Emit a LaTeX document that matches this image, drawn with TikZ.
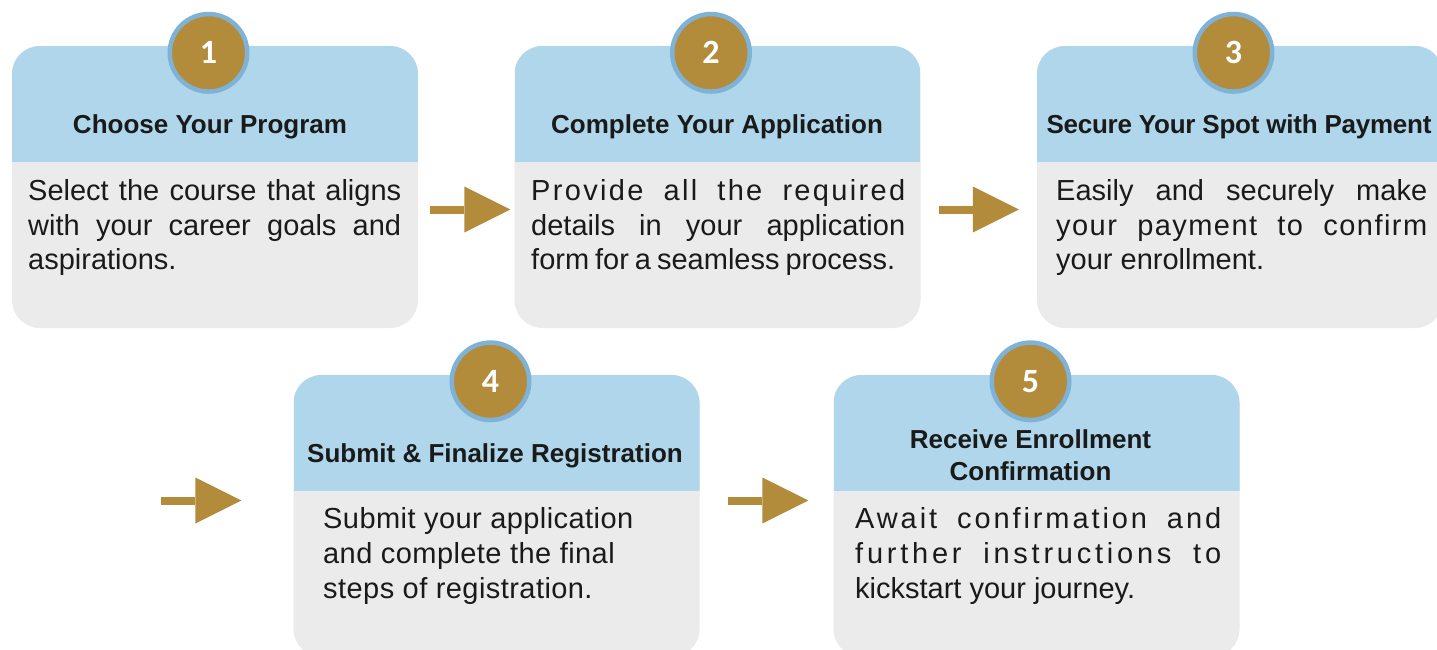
\documentclass[tikz,border=0pt]{standalone}
\usepackage{fontspec}
\setmainfont{Liberation Sans}
\newfontfamily\numfont{Carlito}
\usetikzlibrary{arrows.meta}

\definecolor{hdrblue}{HTML}{AFD6EA}
\definecolor{bodygray}{HTML}{EBEBEB}
\definecolor{gold}{HTML}{B38C3B}
\definecolor{ringblue}{HTML}{7EB2D7}
\definecolor{ink}{HTML}{1A1A1A}

% one justified line of a given width, with the font's own word spacing
\newcommand{\jl}[2]{\makebox[#1][s]{\spaceskip=0pt\xspaceskip=0pt #2}}
% letter spacing, in percent of the font size
\newcommand{\ls}[1]{\addfontfeature{LetterSpace=#1}}

\begin{document}
\begin{tikzpicture}[x=1pt,y=-1pt,
  card/.style={rectangle, rounded corners=28pt, fill=bodygray,
    minimum width=406pt, minimum height=282pt, inner sep=0pt,
    path picture={\fill[hdrblue, sharp corners]
      (path picture bounding box.north west) rectangle
      ([yshift=-116pt]path picture bounding box.north east);}},
  badge/.style={circle, fill=gold, draw=ringblue, line width=4.5pt,
    minimum size=77.5pt, inner sep=0pt, text=white,
    font=\numfont\bfseries\fontsize{34}{34}\selectfont},
  hdrtext/.style={anchor=base, text=ink, inner sep=0pt, align=flush center,
    font=\bfseries\fontsize{26}{32}\selectfont},
  bodytext/.style={anchor=base west, text=ink, inner sep=0pt,
    text width=390pt, align=flush left, font=\fontsize{29}{35}\selectfont},
  flow/.style={draw=gold, line width=8pt,
    -{Triangle[length=46pt,width=46pt,line width=0pt]}}
]
\useasboundingbox (0,0) rectangle (1437,650);
\clip (0,0) rectangle (1437,650);
\fill[white] (0,0) rectangle (1437,650);

% step cards
\node[card] (c1) at (215,187) {};
\node[card] (c2) at (717.5,187) {};
\node[card] (c3) at (1240,187) {};
\node[card] (c4) at (496.5,516) {};
\node[card] (c5) at (1036.5,516) {};

% numbered badges
\node[badge] (n1) at ([shift={(-6.5pt,-7pt)}]c1.north) {1};
\node[badge] (n2) at ([shift={(-6.5pt,-7pt)}]c2.north) {2};
\node[badge] (n3) at ([shift={(-6.5pt,-7pt)}]c3.north) {3};
\node[badge] (n4) at ([shift={(-6pt,-6.5pt)}]c4.north) {4};
\node[badge] (n5) at ([shift={(-6pt,-6.5pt)}]c5.north) {5};

% headings (a two-line heading sits on its last baseline)
\node[hdrtext] (h1) at (210,133) {Choose Your Program};
\node[hdrtext] (h2) at (717,133) {Complete Your Application};
\node[hdrtext] (h3) at (1239,133) {\ls{-1}Secure Your Spot with Payment};
\node[hdrtext] (h4) at (495,462) {Submit \& Finalize Registration};
\node[hdrtext] (h5) at (1030.5,480) {Receive Enrollment\\Confirmation};

% descriptions
\node[bodytext] (b1) at (28,200) {%
  \jl{373pt}{Select the course that aligns}\\
  \jl{373pt}{with your career goals and}\\
  aspirations.};
\node[bodytext] (b2) at (531,200) {%
  \jl{374pt}{\ls{8}Provide all the required}\\
  \jl{374pt}{details in your application}\\
  \jl{364pt}{form for a seamless process.}};
\node[bodytext] (b3) at (1056,200) {%
  \jl{371pt}{Easily and securely make}\\
  \jl{371pt}{\ls{5}your payment to confirm}\\
  your enrollment.};
\node[bodytext] (b4) at (323,528) {\ls{1.5}%
  Submit your application\\
  and complete the final\\
  steps of registration.};
\node[bodytext] (b5) at (855,528) {%
  \jl{366pt}{\ls{10}Await confirmation and}\\
  \jl{366pt}{\ls{13}further instructions to}\\
  kickstart your journey.};

% flow arrows
\coordinate (lead) at (161,500.5);
\draw[flow, shorten <=12pt, shorten >=4pt]
  ([yshift=-22.5pt]c1.east) -- ([yshift=-22.5pt]c2.west);
\draw[flow, shorten <=18pt, shorten >=18pt]
  ([yshift=-22.5pt]c2.east) -- ([yshift=-22.5pt]c3.west);
\draw[flow, shorten >=52pt] (lead) -- ([yshift=15.5pt]c4.west);
\draw[flow, shorten <=28pt, shorten >=25pt]
  ([yshift=15.5pt]c4.east) -- ([yshift=15.5pt]c5.west);
\end{tikzpicture}
\end{document}
